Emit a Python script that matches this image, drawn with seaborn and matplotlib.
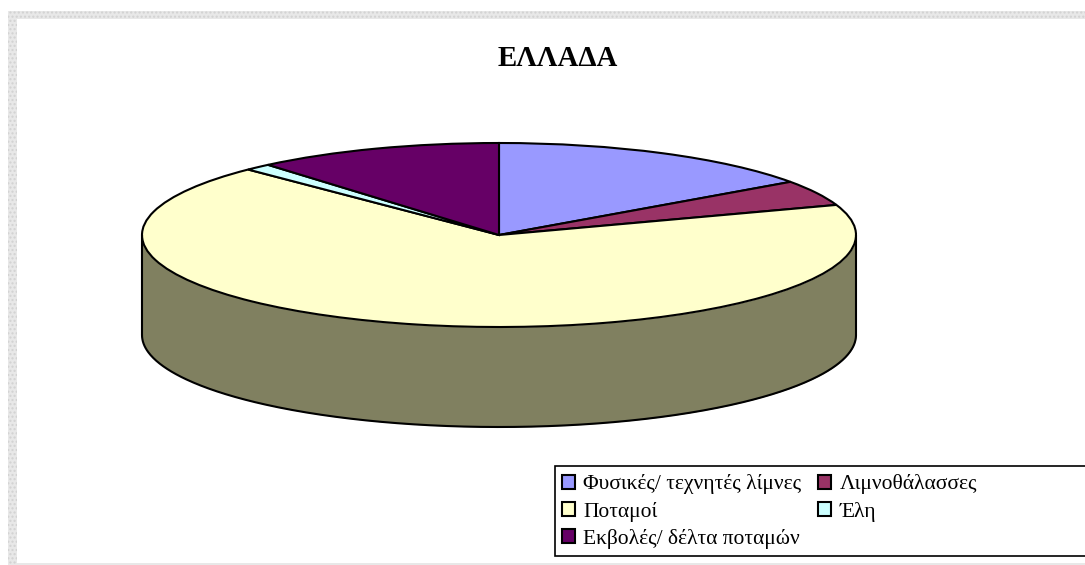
import numpy as np
import seaborn as sns
import matplotlib.pyplot as plt
from matplotlib.patches import Rectangle

# values (percent)
labels = ["Φυσικές/ τεχνητές λίμνες", "Λιμνοθάλασσες", "Ποταμοί", "Έλη", "Εκβολές/ δέλτα ποταμών"]
values = [15.2, 4.5, 67.9, 1.2, 11.2]
colors = ["#9999ff", "#993366", "#ffffcc", "#ccffff", "#660066"]
title = "ΕΛΛΑΔΑ"
# legend fills column by column, the reference reads row by row
legend_order = [0, 2, 4, 1, 3]

W, H = 1085, 565
CX, CY = 499, 235   # pie centre in pixels
RX, RY = 357, 92    # ellipse radii
DEPTH = 100         # height of the side wall
WALL = "#808060"

sns.set_theme(style="white")
plt.rcParams["font.family"] = ["Liberation Serif", "DejaVu Serif"]

fig = plt.figure(figsize=(W / 100, H / 100), dpi=100, facecolor="white")


def px_rect(x0, y0, x1, y1, **kw):
    # rectangle in figure fraction from pixel corners (y down)
    r = Rectangle((x0 / W, 1 - y1 / H), (x1 - x0) / W, (y1 - y0) / H,
                  transform=fig.transFigure, **kw)
    fig.add_artist(r)
    return r


# dotted page border
border = dict(facecolor="#e8e8e8", edgecolor="#d2d2d2", hatch="....", linewidth=0)
px_rect(8, 11, W, 19, **border)
px_rect(8, 11, 17, H, **border)
px_rect(17, 563, W, H, facecolor="#e8e8e8", linewidth=0)

ax = fig.add_axes([0, 0, 1, 1])
ax.patch.set_alpha(0)

# side wall of the disc
depth = DEPTH / RY
t = np.linspace(np.pi, 2 * np.pi, 400)
ax.fill_between(np.cos(t), np.sin(t) - depth, np.sin(t), color=WALL, linewidth=0)
ax.plot(np.cos(t), np.sin(t) - depth, color="black", lw=1.5)
ax.plot([-1, -1], [0, -depth], color="black", lw=1.5)
ax.plot([1, 1], [0, -depth], color="black", lw=1.5)

wedges, _ = ax.pie(values, colors=sns.color_palette(colors), startangle=90, counterclock=False,
                   radius=1, wedgeprops=dict(edgecolor="black", linewidth=1.5))

# squash the pie into an ellipse
ax.set_aspect("auto")
ax.set_xlim(-CX / RX, (W - CX) / RX)
ax.set_ylim(-(H - CY) / RY, CY / RY)
ax.axis("off")

fig.text(558 / W, 1 - 59 / H, title, ha="center", va="center", fontsize=20.8, fontweight="bold", color="black")

# legend box runs off the right edge
px_rect(555, 466, W + 10, 556, facecolor="white", edgecolor="black", linewidth=1.2, zorder=5)
leg = fig.legend([wedges[i] for i in legend_order], [labels[i] for i in legend_order],
                 ncol=2, frameon=False, fontsize=15.5, labelcolor="black",
                 loc="upper left", bbox_to_anchor=(555.5 / W, 1 - 468 / H),
                 handlelength=0.6, handleheight=0.6, handletextpad=0.4,
                 columnspacing=0.75, labelspacing=0.33, borderpad=0.3, borderaxespad=0)
leg.set_zorder(6)
for h in leg.legend_handles:
    h.set_linewidth(1.5)

fig.savefig("out.png", dpi=100)
